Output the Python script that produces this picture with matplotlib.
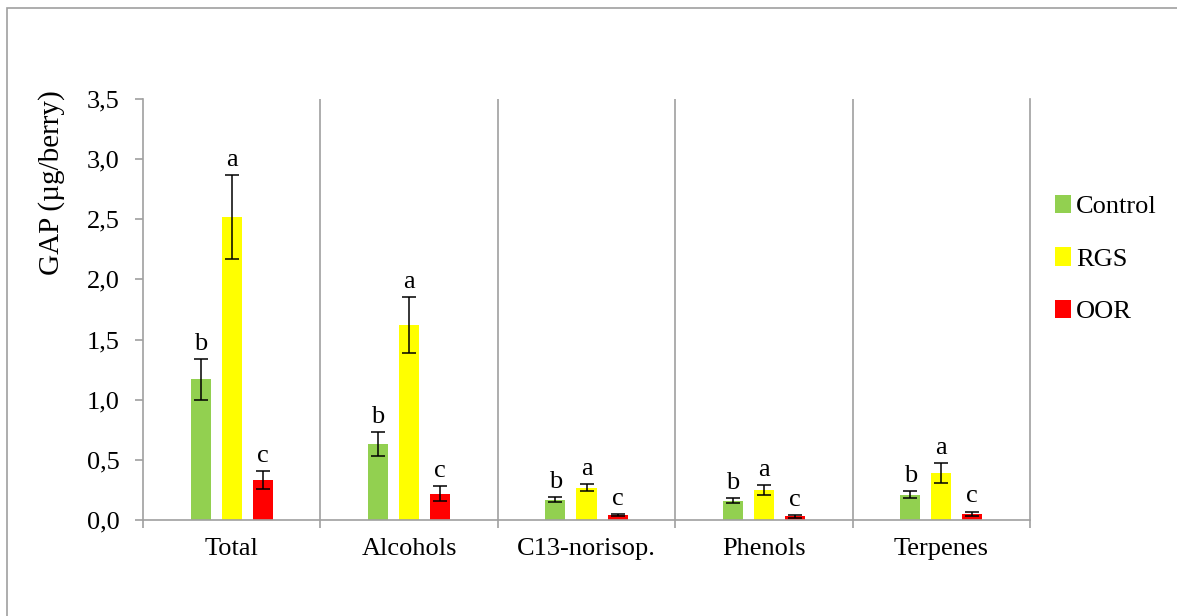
import matplotlib
matplotlib.use("Agg")
import matplotlib.pyplot as plt
from matplotlib.patches import Patch, Rectangle
import numpy as np

categories = ["Total", "Alcohols", "C13-norisop.", "Phenols", "Terpenes"]
series = ["Control", "RGS", "OOR"]
control = [1.17, 0.63, 0.17, 0.16, 0.21]
rgs = [2.52, 1.62, 0.27, 0.25, 0.39]
oor = [0.33, 0.22, 0.04, 0.03, 0.05]
control_err = [0.17, 0.10, 0.02, 0.02, 0.03]
rgs_err = [0.35, 0.23, 0.03, 0.04, 0.08]
oor_err = [0.075, 0.06, 0.01, 0.01, 0.02]
control_lbl = ["b", "b", "b", "b", "b"]
rgs_lbl = ["a", "a", "a", "a", "a"]
oor_lbl = ["c", "c", "c", "c", "c"]
yticks = [0.0, 0.5, 1.0, 1.5, 2.0, 2.5, 3.0, 3.5]

colors = ["#92D050", "#FFFF00", "#FF0000"]
gray = "#A0A0A0"

plt.rcParams['font.family'] = ['Liberation Serif', 'DejaVu Serif']

fig = plt.figure(figsize=(11.77, 6.16), dpi=100)
ax = fig.add_axes([143/1177, 1-520/616, (1030-143)/1177, (520-99)/616])

# outer border
fig.patches.append(Rectangle((7/1177, -0.1), 1.2, 1-8/616+0.1, transform=fig.transFigure,
                             fill=False, edgecolor=gray, linewidth=1.2))

x = np.arange(len(categories))
width = 0.113
offset = 0.175
vals = [control, rgs, oor]
errs = [control_err, rgs_err, oor_err]
lbls = [control_lbl, rgs_lbl, oor_lbl]
for i in range(3):
    pos = x + (i - 1) * offset
    ax.bar(pos, vals[i], width, color=colors[i], label=series[i], zorder=2,
           yerr=errs[i], error_kw=dict(ecolor="black", elinewidth=1.1, capsize=5, capthick=1.1))
    for p, v, e, t in zip(pos, vals[i], errs[i], lbls[i]):
        ax.annotate(t, (p, v + e), xytext=(0, 3), textcoords="offset points",
                    ha="center", va="bottom", fontsize=19)

ax.set_xlim(-0.5, len(categories) - 0.5)
ax.set_ylim(0, 3.5)
ax.set_yticks(yticks)
ax.set_yticklabels([f"{t:.1f}".replace(".", ",") for t in yticks], fontsize=19)
ax.set_xticks(x)
ax.set_xticklabels(categories, fontsize=19)
ax.set_xticks(np.arange(len(categories) + 1) - 0.5, minor=True)
ax.tick_params(axis="x", which="major", length=0, pad=13)
ax.tick_params(axis="x", which="minor", length=6, color=gray, width=1.2, direction="out")
ax.tick_params(axis="y", length=6, color=gray, width=1.2, direction="out", pad=11)
for b in np.arange(1, len(categories)) - 0.5:
    ax.axvline(b, color=gray, linewidth=1.2, zorder=1)
for s in ["left", "right", "bottom"]:
    ax.spines[s].set_color(gray)
    ax.spines[s].set_linewidth(1.2)
ax.spines["top"].set_visible(False)
fig.text(52/1177, 1-183/616, "GAP (µg/berry)", rotation=90, fontsize=21,
         ha="center", va="center")

handles = [Patch(facecolor=c, edgecolor="none") for c in colors]
fig.legend(handles, series, loc="center left", bbox_to_anchor=(1055/1177, 1-259/616),
           frameon=False, fontsize=19, handlelength=0.6, handleheight=0.7,
           handletextpad=0.2, labelspacing=1.1, borderpad=0, borderaxespad=0)

fig.savefig("out.png", dpi=100)
